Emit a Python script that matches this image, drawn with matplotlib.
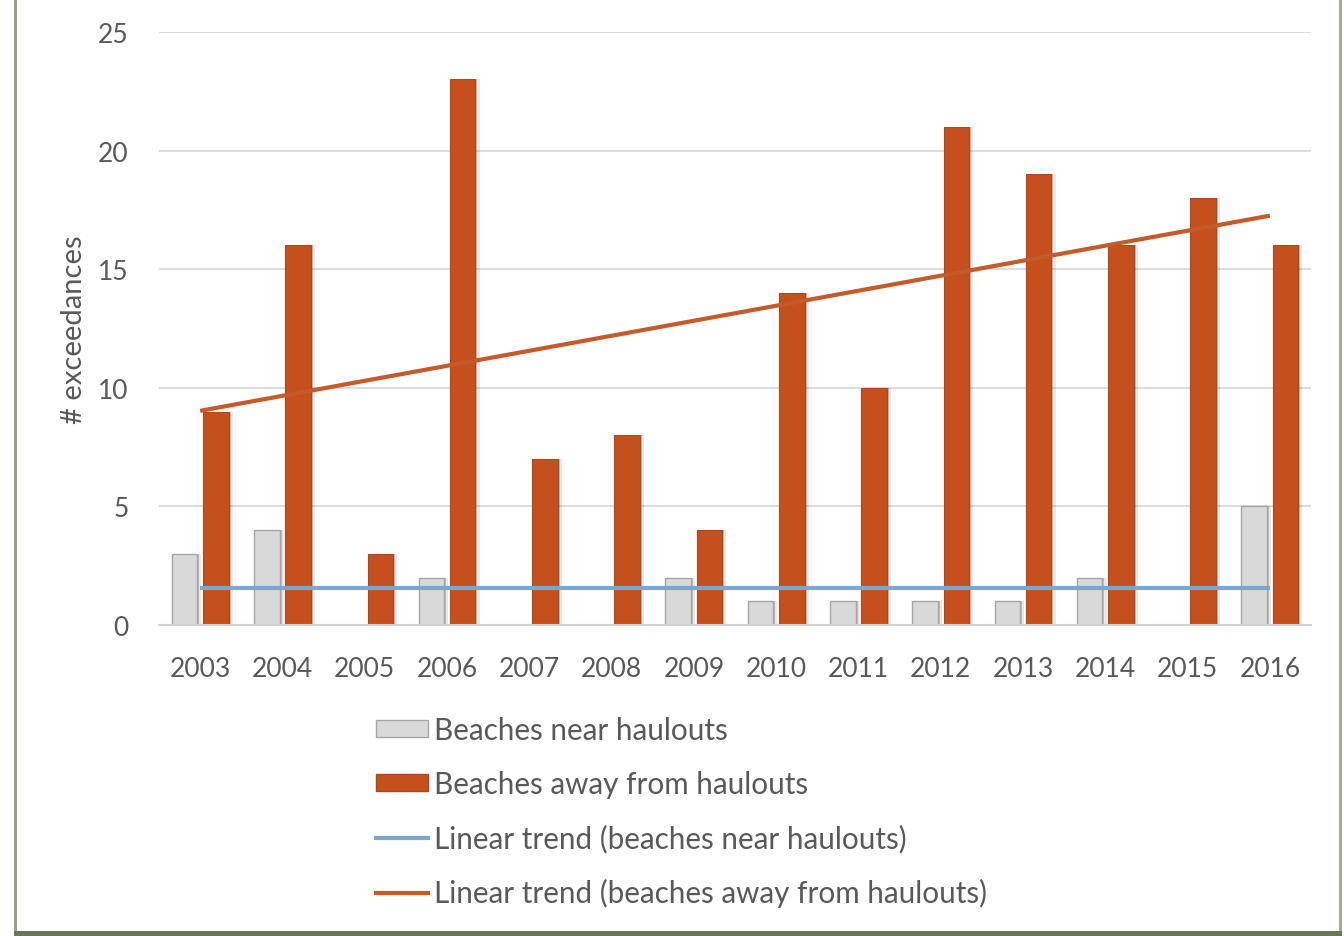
import numpy as np
import matplotlib
matplotlib.use("Agg")
import matplotlib.pyplot as plt
from matplotlib.patches import Rectangle, Patch
from matplotlib.lines import Line2D

plt.rcParams["font.family"] = ["Lato", "DejaVu Sans"]

years = ["2003", "2004", "2005", "2006", "2007", "2008", "2009",
         "2010", "2011", "2012", "2013", "2014", "2015", "2016"]
near = [3, 4, 0, 2, 0, 0, 2, 1, 1, 1, 1, 2, 0, 5]
away = [9, 16, 3, 23, 7, 8, 4, 14, 10, 21, 19, 16, 18, 16]

text_color = "#595959"
gray_fill = "#d9d9d9"
orange_fill = "#c5501e"
blue_trend = "#7ba7cc"
orange_trend = "#c55a2a"

fig = plt.figure(figsize=(13.44, 9.37), dpi=100)
ax = fig.add_axes([159 / 1344, 311 / 937, 1152 / 1344, 593 / 937])

x = np.arange(len(years))
w = 0.31
off = 0.19

# soft drop shadows behind the bars
for xs, vals in ((x - off, near), (x + off, away)):
    for dx, a in ((0.025, 0.18), (0.05, 0.09)):
        ax.bar(xs + dx, vals, w, color="black", alpha=a, linewidth=0, zorder=1)

ax.bar(x - off, near, w, color=gray_fill, edgecolor="#a6a6a6", linewidth=1.0, zorder=2)
ax.bar(x + off, away, w, color=orange_fill, edgecolor="#b0461a", linewidth=0.8, zorder=2)

# least-squares trend lines
for vals, col in ((near, blue_trend), (away, orange_trend)):
    k, b = np.polyfit(x, vals, 1)
    ax.plot(x, k * x + b, color=col, linewidth=3, zorder=3, solid_capstyle="butt")

ax.set_xlim(-0.5, len(years) - 0.5)
ax.set_ylim(0, 25)
ax.set_yticks([0, 5, 10, 15, 20, 25])
ax.set_xticks(x)
ax.set_xticklabels(years)
ax.yaxis.grid(True, color="#d9d9d9", linewidth=1.3, zorder=0)
ax.set_axisbelow(True)
for s in ("top", "right", "left"):
    ax.spines[s].set_visible(False)
ax.spines["bottom"].set_color("#d0d0d0")
ax.spines["bottom"].set_linewidth(1.5)
ax.tick_params(axis="both", length=0, labelsize=19, labelcolor=text_color)
ax.tick_params(axis="y", pad=22)
ax.tick_params(axis="x", pad=22)
ax.set_ylabel("# exceedances", fontsize=21, color=text_color, labelpad=8)

handles = [
    Patch(facecolor=gray_fill, edgecolor="#a6a6a6", linewidth=1),
    Patch(facecolor=orange_fill, edgecolor="#b0461a", linewidth=1),
    Line2D([0], [0], color=blue_trend, linewidth=3),
    Line2D([0], [0], color=orange_trend, linewidth=3),
]
labels = ["Beaches near haulouts", "Beaches away from haulouts",
          "Linear trend (beaches near haulouts)",
          "Linear trend (beaches away from haulouts)"]
leg = fig.legend(handles, labels, loc="upper left",
                 bbox_to_anchor=(376 / 1344, 1 - 717 / 937),
                 frameon=False, fontsize=21.3, handlelength=1.76,
                 handleheight=0.55, handletextpad=0.2, labelspacing=0.875,
                 borderpad=0, borderaxespad=0)
for t in leg.get_texts():
    t.set_color(text_color)

# frame edges around the chart area
fig.add_artist(Rectangle((14 / 1344, 0), 3 / 1344, 1, transform=fig.transFigure,
                         color="#98a08a", linewidth=0))
fig.add_artist(Rectangle((1339 / 1344, 0), 3 / 1344, 1, transform=fig.transFigure,
                         color="#a3aa95", linewidth=0))
fig.add_artist(Rectangle((14 / 1344, 0), 1328 / 1344, 5 / 937, transform=fig.transFigure,
                         color="#6b7657", linewidth=0))

fig.savefig("out.png", dpi=100)
